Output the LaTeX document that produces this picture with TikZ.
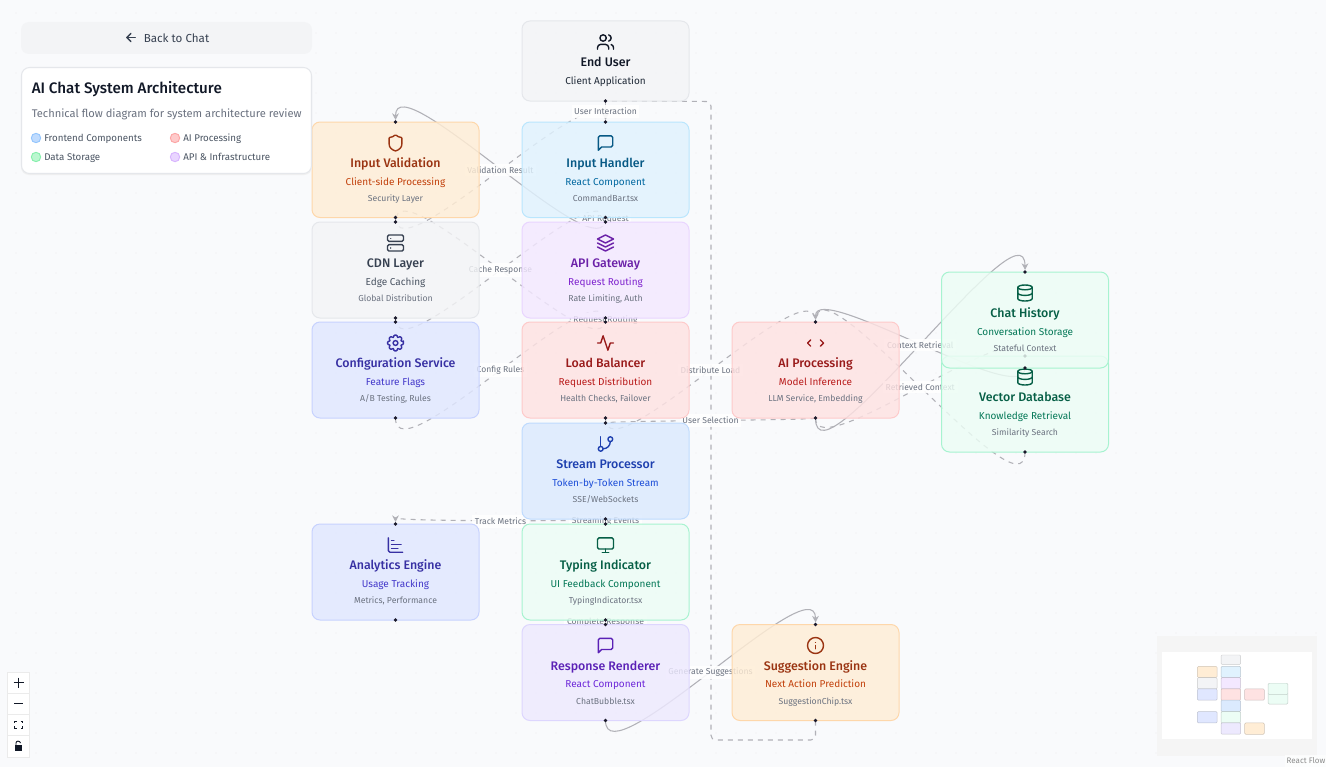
\documentclass[tikz,border=0pt]{standalone}
\usepackage{fontspec}
\setmainfont{Fira Sans}
\newfontfamily\medfont{Fira Sans Medium}
\usetikzlibrary{arrows.meta,calc}
\pgfdeclarelayer{pagebg}\pgfdeclarelayer{edges}\pgfdeclarelayer{labels}
\pgfsetlayers{pagebg,edges,labels,main}
\definecolor{orF}{HTML}{FFEDD5}\definecolor{orB}{HTML}{FED7AA}\definecolor{orT}{HTML}{9A3412}\definecolor{orS}{HTML}{C2410C}
\definecolor{gyF}{HTML}{F3F4F6}\definecolor{gyB}{HTML}{E5E7EB}\definecolor{gyT}{HTML}{374151}\definecolor{gyS}{HTML}{4B5563}
\definecolor{usF}{HTML}{F3F4F6}\definecolor{usB}{HTML}{E5E7EB}\definecolor{usT}{HTML}{111827}\definecolor{usS}{HTML}{1F2937}
\definecolor{inF}{HTML}{E0E7FF}\definecolor{inB}{HTML}{C7D2FE}\definecolor{inT}{HTML}{3730A3}\definecolor{inS}{HTML}{4338CA}
\definecolor{skF}{HTML}{E0F2FE}\definecolor{skB}{HTML}{BAE6FD}\definecolor{skT}{HTML}{075985}\definecolor{skS}{HTML}{0369A1}
\definecolor{puF}{HTML}{F3E8FF}\definecolor{puB}{HTML}{E9D5FF}\definecolor{puT}{HTML}{6B21A8}\definecolor{puS}{HTML}{7E22CE}
\definecolor{reF}{HTML}{FEE2E2}\definecolor{reB}{HTML}{FECACA}\definecolor{reT}{HTML}{991B1B}\definecolor{reS}{HTML}{B91C1C}
\definecolor{blF}{HTML}{DBEAFE}\definecolor{blB}{HTML}{BFDBFE}\definecolor{blT}{HTML}{1E40AF}\definecolor{blS}{HTML}{1D4ED8}
\definecolor{grF}{HTML}{ECFDF5}\definecolor{grB}{HTML}{A7F3D0}\definecolor{grT}{HTML}{065F46}\definecolor{grS}{HTML}{047857}
\definecolor{viF}{HTML}{EDE9FE}\definecolor{viB}{HTML}{DDD6FE}\definecolor{viT}{HTML}{5B21B6}\definecolor{viS}{HTML}{6D28D9}
\definecolor{detail}{HTML}{6B7280}\definecolor{pagec}{HTML}{F9FAFC}\definecolor{edgec}{HTML}{B1B1B7}\definecolor{handlec}{HTML}{1A192B}
\tikzset{
  x=0.75pt,y=-0.75pt,
  arch/.style={rectangle,rounded corners=6pt,minimum width=125.25pt,line width=0.75pt,inner sep=0pt,outer sep=0pt,fill opacity=.82},
  nt/.style={inner sep=0pt,outer sep=0pt,text height=.72em,text depth=.2em,font=\fontsize{9.3}{11}\medfont},
  ns/.style={inner sep=0pt,outer sep=0pt,text height=.72em,text depth=.2em,font=\fontsize{7.5}{9}\selectfont},
  nd/.style={inner sep=0pt,outer sep=0pt,text height=.72em,text depth=.2em,font=\fontsize{6.5}{8}\selectfont,text=detail},
  solidedge/.style={draw=edgec,line width=.8pt,-{Stealth[length=5pt,width=5pt,color=edgec]},shorten >=1.5pt},
  plainedge/.style={draw=edgec,line width=.8pt},
  dashedge/.style={draw=edgec,line width=.8pt,dash pattern=on 3.75pt off 3.75pt},
  dasharrow/.style={dashedge,-{Stealth[length=5pt,width=5pt,color=edgec]},shorten >=1.5pt},
  lab/.style={fill=white,fill opacity=.9,text opacity=1,text=detail,inner xsep=2pt,inner ysep=2pt,font=\fontsize{6.45}{8}\selectfont},
  ic/.style={line width=1.05pt,line cap=round,line join=round,fill=none},
  legtext/.style={anchor=west,inner sep=0pt,text=gyS,text height=.72em,text depth=.2em,font=\fontsize{7.3}{9}\selectfont}
}
\newcommand\icUsers{\draw (9,7) circle[radius=4];
 \draw (16,21)--(16,19) .. controls (16,16.8) and (14.2,15) .. (12,15) -- (6,15) .. controls (3.8,15) and (2,16.8) .. (2,19) -- (2,21);
 \draw (22,21)--(22,19) .. controls (22,17.2) and (20.8,15.6) .. (19,15.13);
 \draw (16,3.13) .. controls (17.8,3.6) and (19,5.2) .. (19,7) .. controls (19,8.8) and (17.8,10.4) .. (16,10.88);}
\newcommand\icMsg{\draw (21,15) .. controls (21,16.1) and (20.1,17) .. (19,17) -- (7,17) -- (3,21) -- (3,5) .. controls (3,3.9) and (3.9,3) .. (5,3) -- (19,3) .. controls (20.1,3) and (21,3.9) .. (21,5) -- cycle;}
\newcommand\icShield{\draw (20,13) .. controls (20,18) and (16.5,20.5) .. (12,22) .. controls (7.5,20.5) and (4,18) .. (4,13) -- (4,6) .. controls (4,5.4) and (4.4,5) .. (5,5) .. controls (7,5) and (9.5,3.8) .. (11.24,2.3) .. controls (11.7,1.9) and (12.3,1.9) .. (12.76,2.3) .. controls (14.5,3.8) and (17,5) .. (19,5) .. controls (19.6,5) and (20,5.4) .. (20,6) -- cycle;}
\newcommand\icServer{\draw[rounded corners=1.1pt] (2,2) rectangle (22,10); \draw[rounded corners=1.1pt] (2,14) rectangle (22,22); \draw (6,6)--(6.01,6); \draw (6,18)--(6.01,18);}
\newcommand\icLayers{\draw (12,2)--(2,7)--(12,12)--(22,7)--cycle; \draw (2,17)--(12,22)--(22,17); \draw (2,12)--(12,17)--(22,12);}
\newcommand\icGear{\draw (12,12) circle[radius=3];
 \begin{scope}[shift={(12,12)}]\draw[rounded corners=.5pt] (-10:10) \foreach \a in {0,45,...,315}{ -- ({\a-10}:10) -- ({\a+10}:10) -- ({\a+19}:7.6) -- ({\a+26}:7.6)} -- cycle;\end{scope}}
\newcommand\icActivity{\draw (22,12)--(18,12)--(15,21)--(9,3)--(6,12)--(2,12);}
\newcommand\icCode{\draw (18,16)--(22,12)--(18,8); \draw (6,8)--(2,12)--(6,16);}
\newcommand\icDb{\draw (12,5) ellipse[x radius=9,y radius=3];
 \draw (3,5)--(3,19) .. controls (3,20.66) and (7,22) .. (12,22) .. controls (17,22) and (21,20.66) .. (21,19)--(21,5);
 \draw (3,12) .. controls (3,13.66) and (7,15) .. (12,15) .. controls (17,15) and (21,13.66) .. (21,12);}
\newcommand\icBranch{\draw (6,3)--(6,15); \draw (18,6) circle[radius=3]; \draw (6,18) circle[radius=3]; \draw (18,9) .. controls (18,14) and (14,18) .. (9,18);}
\newcommand\icChart{\draw (3,3)--(3,19) .. controls (3,20.1) and (3.9,21) .. (5,21)--(21,21); \draw (7,16)--(15,16); \draw (7,11)--(19,11); \draw (7,6)--(10,6);}
\newcommand\icMonitor{\draw[rounded corners=1.1pt] (2,3) rectangle (22,17); \draw (8,21)--(16,21); \draw (12,17)--(12,21);}
\newcommand\icInfo{\draw (12,12) circle[radius=10]; \draw (12,16)--(12,12); \draw (12,8)--(12.01,8);}
% name, cx, top, height, theme, icon, title, sub, detail
\newcommand\archnode[9]{%
 \pgfmathsetmacro\nh{#4*.75}\pgfmathsetmacro\ncy{#3+#4/2}
 \pgfmathsetmacro\nia{#3+21}\pgfmathsetmacro\nib{#3+42.5}\pgfmathsetmacro\nic{#3+60}\pgfmathsetmacro\nid{#3+76.5}
 \node[arch,minimum height=\nh pt,draw=#5B,fill=#5F] (#1) at (#2,\ncy) {};
 \begin{scope}[shift={(#2,\nia)},scale=.8,shift={(-12,-12)},ic,draw=#5T]#6\end{scope}
 \node[nt,text=#5T] (#1t) at (#2,\nib) {#7};
 \node[ns,text=#5S] (#1s) at (#2,\nic) {#8};
 \node[nd] (#1d) at (#2,\nid) {#9};
 \fill[handlec] (#1.south) circle[radius=1.9];
}
\newcommand\toph[1]{\fill[handlec] (#1.north) circle[radius=1.9];}
\newcommand\flow[4]{\begin{pgfonlayer}{edges}\draw[#1] (#2.south) .. controls ($(#2.south)+(0,#4)$) and ($(#3.north)+(0,-#4)$) .. (#3.north);\end{pgfonlayer}}
\newcommand\flowlab[4]{\begin{pgfonlayer}{labels}\path (#1.south) .. controls ($(#1.south)+(0,#3)$) and ($(#2.north)+(0,-#3)$) .. (#2.north) node[lab,pos=.5] (lab#1#2) {#4};\end{pgfonlayer}}
\begin{document}
\begin{tikzpicture}
\useasboundingbox (0,0) rectangle (1326,767);
\begin{pgfonlayer}{pagebg}
\fill[pagec] (0,0) rectangle (1326,767);
\foreach \i in {0,...,65}{\foreach \j in {0,...,37}{\fill[black!7] ({16+20*\i},{13+20*\j}) circle[radius=.6];}}
\end{pgfonlayer}
% nodes
\archnode{user}{605.5}{21}{80}{us}{\icUsers}{End User}{Client Application}{}
\archnode{val}{395.5}{122}{95.5}{or}{\icShield}{Input Validation}{Client-side Processing}{Security Layer}\toph{val}
\archnode{hand}{605.5}{122}{95.5}{sk}{\icMsg}{Input Handler}{React Component}{CommandBar.tsx}\toph{hand}
\archnode{cdn}{395.5}{222}{96}{gy}{\icServer}{CDN Layer}{Edge Caching}{Global Distribution}\toph{cdn}
\archnode{gate}{605.5}{222}{96}{pu}{\icLayers}{API Gateway}{Request Routing}{Rate Limiting, Auth}\toph{gate}
\archnode{conf}{395.5}{322}{96}{in}{\icGear}{Configuration Service}{Feature Flags}{A/B Testing, Rules}\toph{conf}
\archnode{lb}{605.5}{322}{96}{re}{\icActivity}{Load Balancer}{Request Distribution}{Health Checks, Failover}\toph{lb}
\archnode{ai}{815.5}{322}{96}{re}{\icCode}{AI Processing}{Model Inference}{LLM Service, Embedding}\toph{ai}
\archnode{stream}{605.5}{423}{96}{bl}{\icBranch}{Stream Processor}{Token-by-Token Stream}{SSE/WebSockets}\toph{stream}
\archnode{vec}{1025}{356}{96}{gr}{\icDb}{Vector Database}{Knowledge Retrieval}{Similarity Search}\toph{vec}
\archnode{chat}{1025}{272}{96}{gr}{\icDb}{Chat History}{Conversation Storage}{Stateful Context}\toph{chat}
\archnode{ana}{395.5}{524}{96}{in}{\icChart}{Analytics Engine}{Usage Tracking}{Metrics, Performance}\toph{ana}
\archnode{type}{605.5}{524}{96}{gr}{\icMonitor}{Typing Indicator}{UI Feedback Component}{TypingIndicator.tsx}\toph{type}
\archnode{resp}{605.5}{624.5}{96}{vi}{\icMsg}{Response Renderer}{React Component}{ChatBubble.tsx}\toph{resp}
\archnode{sug}{815.5}{624.5}{96}{or}{\icInfo}{Suggestion Engine}{Next Action Prediction}{SuggestionChip.tsx}\toph{sug}
% connectors
\flow{solidedge}{user}{hand}{10.5}\flowlab{user}{hand}{10.5}{User Interaction}
\flow{solidedge}{hand}{val}{60.9}
\flow{dashedge}{val}{hand}{60.9}\flowlab{val}{hand}{60.9}{Validation Result}
\flow{plainedge}{hand}{gate}{2.5}\flowlab{hand}{gate}{2.5}{API Request}
\flow{dashedge}{gate}{cdn}{61.2}
\flow{dashedge}{cdn}{gate}{61.2}\flowlab{cdn}{gate}{61.2}{Cache Response}
\flow{plainedge}{gate}{lb}{2}\flowlab{gate}{lb}{2}{Request Routing}
\flow{dashedge}{conf}{lb}{61.2}\flowlab{conf}{lb}{61.2}{Config Rules}
\flow{dashedge}{lb}{ai}{61.2}\flowlab{lb}{ai}{61.2}{Distribute Load}
\flow{dashedge}{ai}{stream}{2.5}\flowlab{ai}{stream}{2.5}{User Selection}
\flow{solidedge}{ai}{chat}{75.5}
\flow{solidedge}{chat}{ai}{42.4}\flowlab{chat}{ai}{42.4}{Context Retrieval}
\flow{dashedge}{ai}{vec}{49.2}
\flow{dashedge}{vec}{ai}{71.3}\flowlab{vec}{ai}{71.3}{Retrieved Context}
\flow{dasharrow}{stream}{ana}{2.5}\flowlab{stream}{ana}{2.5}{Track Metrics}
\flow{plainedge}{stream}{type}{2.5}\flowlab{stream}{type}{2.5}{Streaming Events}
\flow{plainedge}{type}{resp}{2.5}\flowlab{type}{resp}{2.5}{Complete Response}
\flow{solidedge}{resp}{sug}{60.9}\flowlab{resp}{sug}{60.9}{Generate Suggestions}
\begin{pgfonlayer}{edges}
\draw[dashedge,rounded corners=3.5pt] (sug.south) -- ($(sug.south)+(0,19.5)$) -- (711,740) -- (711,101.5) -- (user.south);
\end{pgfonlayer}
% back button
\fill[gyF,rounded corners=6pt] (21,22) rectangle (312,54);
\node[inner sep=0pt,text=gyT,font=\fontsize{8.7}{10}\selectfont] (backtxt) at (176.5,38) {Back to Chat};
\begin{scope}[shift={(131,37.5)},scale=.6,shift={(-12,-12)},ic,draw=gyT]
\draw (12,19)--(5,12)--(12,5); \draw (19,12)--(5,12);
\end{scope}
% info panel
\fill[black!6,rounded corners=6pt] (21,69) rectangle (312,175);
\draw[gyB,fill=white,rounded corners=6pt,line width=.8pt] (21.5,67.5) rectangle (311.5,173.5);
\node[anchor=west,inner sep=0pt,text=usT,font=\fontsize{11.4}{13}\medfont] (ptitle) at (31.5,88.7) {AI Chat System Architecture};
\node[anchor=west,inner sep=0pt,text=detail,font=\fontsize{8.35}{10}\selectfont] (psub) at (31.5,114.4) {Technical flow diagram for system architecture review};
\foreach \cx/\cy/\f/\b/\t in {36/138/BFDBFE/93C5FD/Frontend Components,175/138/FECACA/FCA5A5/AI Processing,36/157/BBF7D0/86EFAC/Data Storage,175/157/E9D5FF/D8B4FE/API \& Infrastructure}{
 \definecolor{lf}{HTML}{\f}\definecolor{lb}{HTML}{\b}
 \draw[lb,fill=lf,line width=.7pt] (\cx,\cy) circle[radius=4.7];
 \node[legtext] at ({\cx+8},\cy) {\t};
}
% controls
\fill[black!8] (7,671.5) rectangle (29.5,757.5);
\fill[white] (8,672.5) rectangle (29,693);
\fill[white] (8,694) rectangle (29,714);
\fill[white] (8,715) rectangle (29,735);
\fill[white] (8,736) rectangle (29,757);
\draw[usT,line width=.75pt] (13.5,682.5)--(23.5,682.5) (18.5,677.5)--(18.5,687.5);
\draw[usT,line width=.75pt] (14,703.5)--(23,703.5);
\draw[usT,line width=.7pt] (14.5,723)--(14.5,721)--(16.5,721) (20.5,721)--(22.5,721)--(22.5,723) (22.5,726)--(22.5,728)--(20.5,728) (16.5,728)--(14.5,728)--(14.5,726);
\fill[usT] (15,745) rectangle (22,751);
\draw[usT,line width=.7pt] (16,745)--(16,743) .. controls (16,740.5) and (20,740.5) .. (20.5,743);
% minimap
\fill[black!4] (1157,636) rectangle (1317,756);
\fill[white] (1162,652) rectangle (1312,739);
\foreach \mx/\my/\mh/\mt in {522/21/80/us,522/122/95/sk,522/222/96/pu,522/322/96/re,522/423/96/bl,522/524/96/gr,522/624/96/vi,312/122/95/or,312/222/96/gy,312/322/96/in,312/524/96/in,732/322/96/re,732/625/96/or,941/356/96/gr,941/272/96/gr}{
 \draw[\mt F!70!black,fill=\mt F,line width=.35pt,rounded corners=.8pt,draw opacity=.6] ({1221+(\mx-522)*.1125},{655+(\my-21)*.1125}) rectangle +(19.7,{\mh*.118});
}
% attribution
\fill[white,fill opacity=.6] (1285,755) rectangle (1326,767);
\node[inner sep=0pt,text=black!45,font=\fontsize{6}{7}\selectfont] (rf) at (1306,760.5) {React Flow};
\end{tikzpicture}
\end{document}
